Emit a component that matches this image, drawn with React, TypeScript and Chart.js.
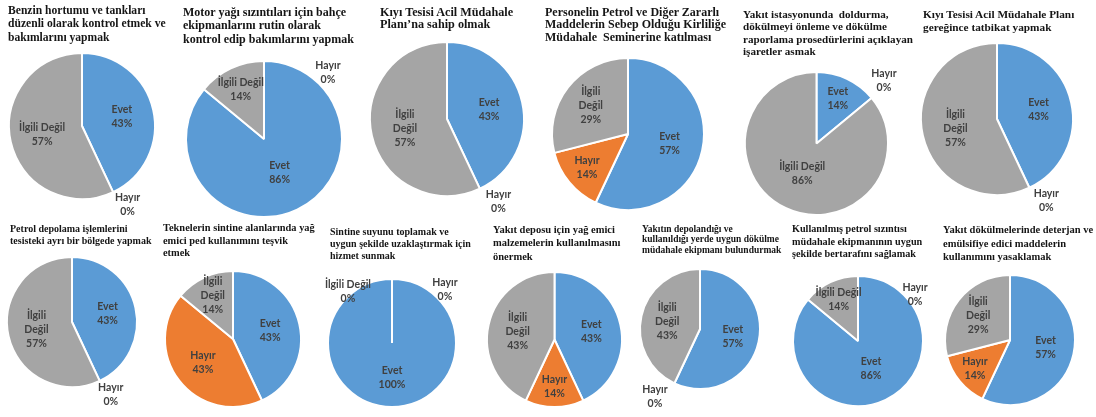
import React, { useEffect, useRef } from "react";
import { Chart, registerables } from "chart.js";

Chart.register(...registerables);

// ---------- DATA ----------
const categories = ["Evet", "Hayır", "İlgili Değil"];

const titles: string[][] = [
  ["Benzin hortumu ve tankları", "düzenli olarak kontrol etmek ve", "bakımlarını yapmak"],
  ["Motor yağı sızıntıları için bahçe", "ekipmanlarını rutin olarak", "kontrol edip bakımlarını yapmak"],
  ["Kıyı Tesisi Acil Müdahale", "Planı’na sahip olmak"],
  ["Personelin Petrol ve Diğer Zararlı", "Maddelerin Sebep Olduğu Kirliliğe", "Müdahale  Seminerine katılması"],
  ["Yakıt istasyonunda  doldurma,", "dökülmeyi önleme ve dökülme", "raporlama prosedürlerini açıklayan", "işaretler asmak"],
  ["Kıyı Tesisi Acil Müdahale Planı", "gereğince tatbikat yapmak"],
  ["Petrol depolama işlemlerini", "tesisteki ayrı bir bölgede yapmak"],
  ["Teknelerin sintine alanlarında yağ", "emici ped kullanımını teşvik", "etmek"],
  ["Sintine suyunu toplamak ve", "uygun şekilde uzaklaştırmak için", "hizmet sunmak"],
  ["Yakıt deposu için yağ emici", "malzemelerin kullanılmasını", "önermek"],
  ["Yakıtın depolandığı ve", "kullanıldığı yerde uygun dökülme", "müdahale ekipmanı bulundurmak"],
  ["Kullanılmış petrol sızıntısı", "müdahale ekipmanının uygun", "şekilde bertarafını sağlamak"],
  ["Yakıt dökülmelerinde deterjan ve", "emülsifiye edici maddelerin", "kullanımını yasaklamak"],
];

const evet = [43, 86, 43, 57, 14, 43, 43, 43, 100, 43, 57, 86, 57];
const hayir = [0, 0, 0, 14, 0, 0, 0, 43, 0, 14, 0, 0, 14];
const ilgili = [57, 14, 57, 29, 86, 57, 57, 14, 0, 43, 43, 14, 29];

// ---------- LAYOUT / STYLE ----------
const colors = ["#5B9BD5", "#ED7D31", "#A5A5A5"];
const centers: [number, number][] = [
  [82, 126], [264, 138.5], [447, 119], [628, 134], [816, 143.5], [997, 119],
  [72, 322], [233, 339], [392, 342.5], [554.5, 339.5], [700, 329], [858, 341], [1010, 340],
];
const radii = [73, 78, 77, 76, 71.5, 76, 65, 68, 64, 67.5, 60, 65, 65];
// title: left, top, font size, line height
const titleBoxes: [number, number, number, number][] = [
  [8, 3.5, 11.6, 13.5], [183, 5.5, 12, 13.5], [380, 5.5, 12.2, 12.5], [545, 5.5, 12, 12.5],
  [743, 8, 11.1, 12.3], [923, 8, 11.3, 13],
  [10, 222.5, 10, 12], [163, 222, 10.4, 12.5], [330, 226, 10, 12], [493, 222.5, 10.5, 13.5],
  [642, 223.5, 9.5, 10.5], [792, 223, 10.2, 12.5], [943, 223, 10.5, 13.5],
];
// placement of 0% labels: [angle clockwise from top (deg), radius factor]
const zeroLabelPos: Record<number, [number, number]>[] = [
  { 1: [150, 1.25] },
  { 1: [44, 1.18] },
  { 1: [148, 1.26] },
  {},
  { 1: [47, 1.29] },
  { 1: [149, 1.26] },
  { 1: [152, 1.27] },
  {},
  { 1: [45, 1.17], 2: [319.5, 1.06] },
  {},
  { 1: [213.5, 1.36] },
  { 1: [51, 1.13] },
  {},
];
const wrapIlgili = [false, false, true, true, false, true, true, true, false, true, true, false, true];
const MARGIN = 45;

function PieChart({ index }: { index: number }) {
  const ref = useRef<HTMLCanvasElement | null>(null);
  const r = radii[index];
  const [cx, cy] = centers[index];
  const size = 2 * (r + MARGIN);

  useEffect(() => {
    if (!ref.current) return;
    const values = [evet[index], hayir[index], ilgili[index]];
    const labelPlugin = {
      id: "sliceLabels" + index,
      afterDatasetsDraw(chart: any) {
        const ctx = chart.ctx;
        const meta = chart.getDatasetMeta(0);
        ctx.save();
        // radial edge line of a full (100%) pie, as in the source
        values.forEach((v, i) => {
          if (v === 100) {
            const p = meta.data[i].getProps(["x", "y", "outerRadius"], true);
            ctx.strokeStyle = "#ffffff";
            ctx.lineWidth = 2;
            ctx.beginPath();
            ctx.moveTo(p.x, p.y);
            ctx.lineTo(p.x, p.y - p.outerRadius);
            ctx.stroke();
          }
        });
        ctx.font = "bold 10.5px Lato, 'Open Sans', sans-serif";
        ctx.fillStyle = "#404040";
        ctx.textAlign = "center";
        ctx.textBaseline = "middle";
        meta.data.forEach((arc: any, i: number) => {
          const p = arc.getProps(["x", "y", "startAngle", "endAngle", "outerRadius"], true);
          const v = values[i];
          let ang: number;
          let k: number;
          if (v === 0) {
            const z = zeroLabelPos[index][i];
            if (!z) return;
            ang = -Math.PI / 2 + (z[0] * Math.PI) / 180;
            k = z[1];
          } else {
            ang = (p.startAngle + p.endAngle) / 2;
            const frac = v / 100;
            k = frac >= 1 ? 0 : frac > 0.7 ? 0.47 : frac >= 0.4 ? 0.56 : frac >= 0.25 ? 0.62 : 0.7;
          }
          let lx = p.x + Math.cos(ang) * k * p.outerRadius;
          let ly = p.y + Math.sin(ang) * k * p.outerRadius;
          if (v === 100) {
            lx = p.x;
            ly = p.y + 0.54 * p.outerRadius;
          }
          const name = categories[i];
          const lines =
            i === 2 && wrapIlgili[index] && v > 0
              ? ["İlgili", "Değil", v + "%"]
              : [name, v + "%"];
          const lh = 14;
          const y0 = ly - ((lines.length - 1) * lh) / 2;
          lines.forEach((t, j) => ctx.fillText(t, lx, y0 + j * lh));
        });
        ctx.restore();
      },
    };
    const chart = new Chart(ref.current, {
      type: "pie",
      data: {
        labels: categories,
        datasets: [
          {
            data: values,
            backgroundColor: colors,
            borderColor: "#ffffff",
            borderWidth: 2,
          },
        ],
      },
      options: {
        animation: false,
        responsive: false,
        radius: r,
        layout: { padding: MARGIN },
        plugins: {
          legend: { display: false },
          tooltip: { enabled: false },
          title: { display: false },
        },
      } as any,
      plugins: [labelPlugin],
    });
    return () => chart.destroy();
  }, [index]);

  return (
    <canvas
      ref={ref}
      width={size}
      height={size}
      style={{
        position: "absolute",
        left: cx - r - MARGIN,
        top: cy - r - MARGIN,
        width: size,
        height: size,
      }}
    />
  );
}

export default function App() {
  return (
    <div
      style={{
        position: "fixed",
        left: 0,
        top: 0,
        width: 1096,
        height: 417,
        background: "#ffffff",
        overflow: "hidden",
      }}
    >
      {titles.map((_, i) => (
        <PieChart key={"p" + i} index={i} />
      ))}
      {titles.map((lines, i) => {
        const [x, y, fs, lh] = titleBoxes[i];
        return (
          <div
            key={"t" + i}
            style={{
              position: "absolute",
              left: x,
              top: y,
              fontFamily: "'Liberation Serif', 'Times New Roman', serif",
              fontWeight: "bold",
              fontSize: fs,
              lineHeight: lh + "px",
              color: "#151515",
              whiteSpace: "pre",
            }}
          >
            {lines.map((l, j) => (
              <div key={j}>{l}</div>
            ))}
          </div>
        );
      })}
    </div>
  );
}
